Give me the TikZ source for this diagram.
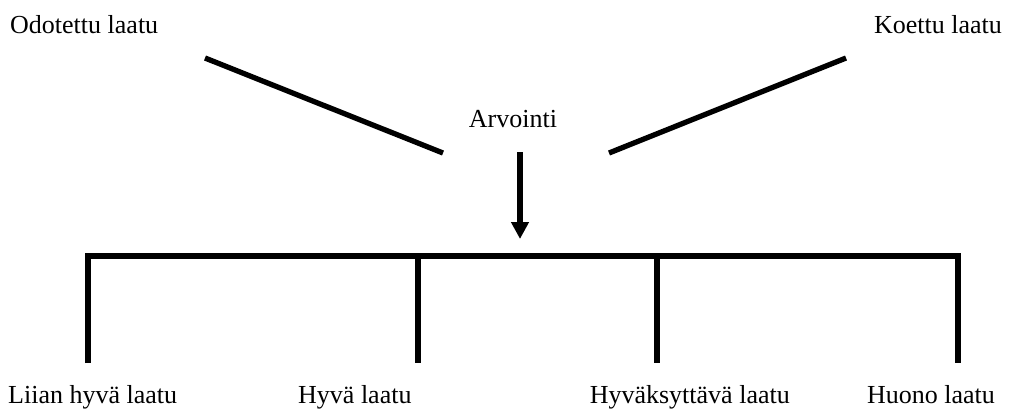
\documentclass[tikz,border=0pt]{standalone}
\usepackage{fontspec}
\setmainfont{Liberation Serif}
\usetikzlibrary{arrows.meta}
\begin{document}
\begin{tikzpicture}[x=1pt,y=-1pt,
  lbl/.style={inner sep=0pt,font=\fontsize{26}{30}\selectfont},
  thick line/.style={line width=5.3pt,line cap=butt},
  bracket/.style={line width=5.3pt,line join=miter}]
\useasboundingbox (0,0) rectangle (1009,408);

% top labels
\node[lbl,anchor=base west] (odo) at (10,33) {Odotettu laatu};
\node[lbl,anchor=base east] (koe) at (1002,33) {Koettu laatu};
\node[lbl,anchor=base] (arv) at (513,127) {Arvointi};

% bottom labels
\node[lbl,anchor=base west] (l1) at (8,403) {Liian hyvä laatu};
\node[lbl,anchor=base west] (l2) at (298,403) {Hyvä laatu};
\node[lbl,anchor=base east] (l3) at (790,403) {Hyväksyttävä laatu};
\node[lbl,anchor=base east] (l4) at (995,403) {Huono laatu};

% converging lines
\coordinate (a1) at (205,58);
\coordinate (a2) at (443,153);
\coordinate (b1) at (846,58);
\coordinate (b2) at (609,153);
\draw[thick line] (a1) -- (a2);
\draw[thick line] (b1) -- (b2);

% arrow down to the scale
\coordinate (c1) at (520,152);
\coordinate (c2) at (520,239);
\draw[thick line,-{Triangle[width=17pt,length=17pt]}] (c1) -- (c2);

% the scale bracket
\coordinate (p1) at (88,363);
\coordinate (p2) at (88,256);
\coordinate (p3) at (958,256);
\coordinate (p4) at (958,363);
\coordinate (q2) at (418,256);
\coordinate (q2b) at (418,363);
\coordinate (q3) at (657,256);
\coordinate (q3b) at (657,363);
\draw[bracket] (p1) -- (p2) -- (p3) -- (p4);
\draw[thick line] (q2) -- (q2b);
\draw[thick line] (q3) -- (q3b);
\end{tikzpicture}
\end{document}
